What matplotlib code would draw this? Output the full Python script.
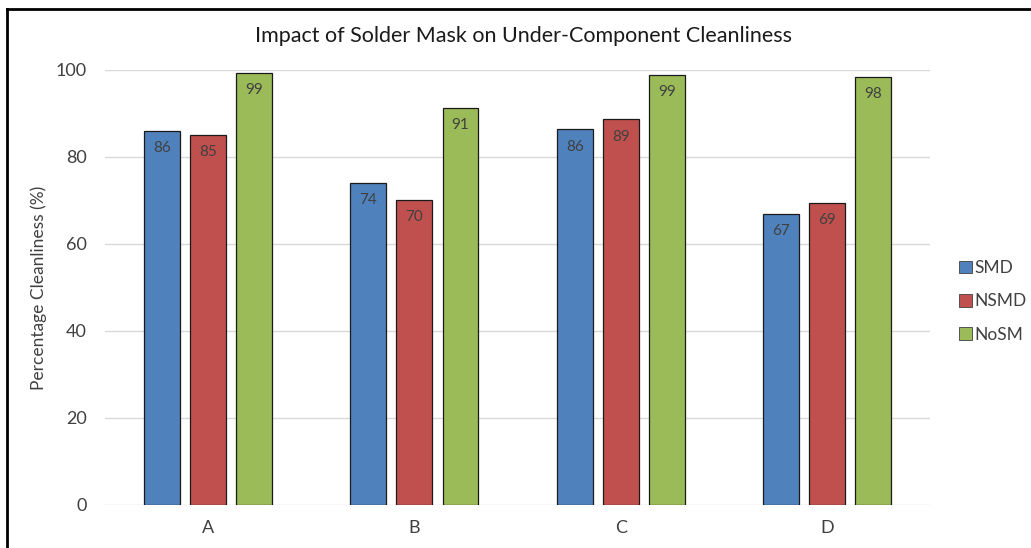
import matplotlib
matplotlib.use("Agg")
import matplotlib.pyplot as plt
from matplotlib.lines import Line2D
from matplotlib.patches import Patch
import numpy as np

plt.rcParams['font.family'] = ['Lato', 'DejaVu Sans']

categories = ["A", "B", "C", "D"]
series_names = ["SMD", "NSMD", "NoSM"]
smd = [86.0, 74.0, 86.4, 66.9]
nsmd = [85.1, 70.1, 88.7, 69.4]
nosm = [99.3, 91.3, 98.9, 98.4]
colors = ["#4F81BD", "#C0504D", "#9BBB59"]
y_ticks = [0, 20, 40, 60, 80, 100]

fig = plt.figure(figsize=(10.31, 5.48), dpi=100)
ax = fig.add_axes([0.1018, 0.0785, 0.8005, 0.7938])

x = np.arange(len(categories))
width = 0.174
step = 0.223
for i, (vals, col) in enumerate(zip([smd, nsmd, nosm], colors)):
    pos = x + (i - 1) * step
    bars = ax.bar(pos, vals, width=width, color=col, edgecolor="#1a1a1a",
                  linewidth=0.9, zorder=3, label=series_names[i])
    for b, v in zip(bars, vals):
        ax.text(b.get_x() + b.get_width() / 2, v - 4.0, f"{v:.0f}",
                ha="center", va="center", fontsize=11, color="#404040", zorder=4)

ax.set_xlim(-0.5, len(categories) - 0.5)
ax.set_ylim(0, 100)
ax.set_yticks(y_ticks)
ax.set_xticks(x)
ax.set_xticklabels(categories)
ax.tick_params(axis="both", length=0, labelsize=13, labelcolor="#404040")
ax.tick_params(axis="y", pad=13)
ax.tick_params(axis="x", pad=11)
ax.grid(axis="y", color="#d9d9d9", linewidth=1.0, zorder=0)
for s in ax.spines.values():
    s.set_visible(False)

ax.set_ylabel("Percentage Cleanliness (%)", fontsize=12.5, color="#404040", labelpad=6)
fig.text(0.508, 0.934, "Impact of Solder Mask on Under-Component Cleanliness",
         ha="center", va="center", fontsize=15.5, color="#1a1a1a")

handles = [Patch(facecolor=c, edgecolor="#404040", linewidth=0.6) for c in colors]
fig.legend(handles, series_names, loc="center left", bbox_to_anchor=(0.915, 0.45),
           frameon=False, fontsize=12.5, handlelength=0.75, handleheight=0.75,
           handletextpad=0.15, labelspacing=1.0, labelcolor="#404040")

# chart frame: top and left edges
fig.add_artist(Line2D([0.0068, 1.0], [0.984, 0.984], transform=fig.transFigure,
                      color="black", linewidth=2))
fig.add_artist(Line2D([0.0068, 0.0068], [0.0, 0.984], transform=fig.transFigure,
                      color="black", linewidth=2))

fig.savefig("out.png", dpi=100)
